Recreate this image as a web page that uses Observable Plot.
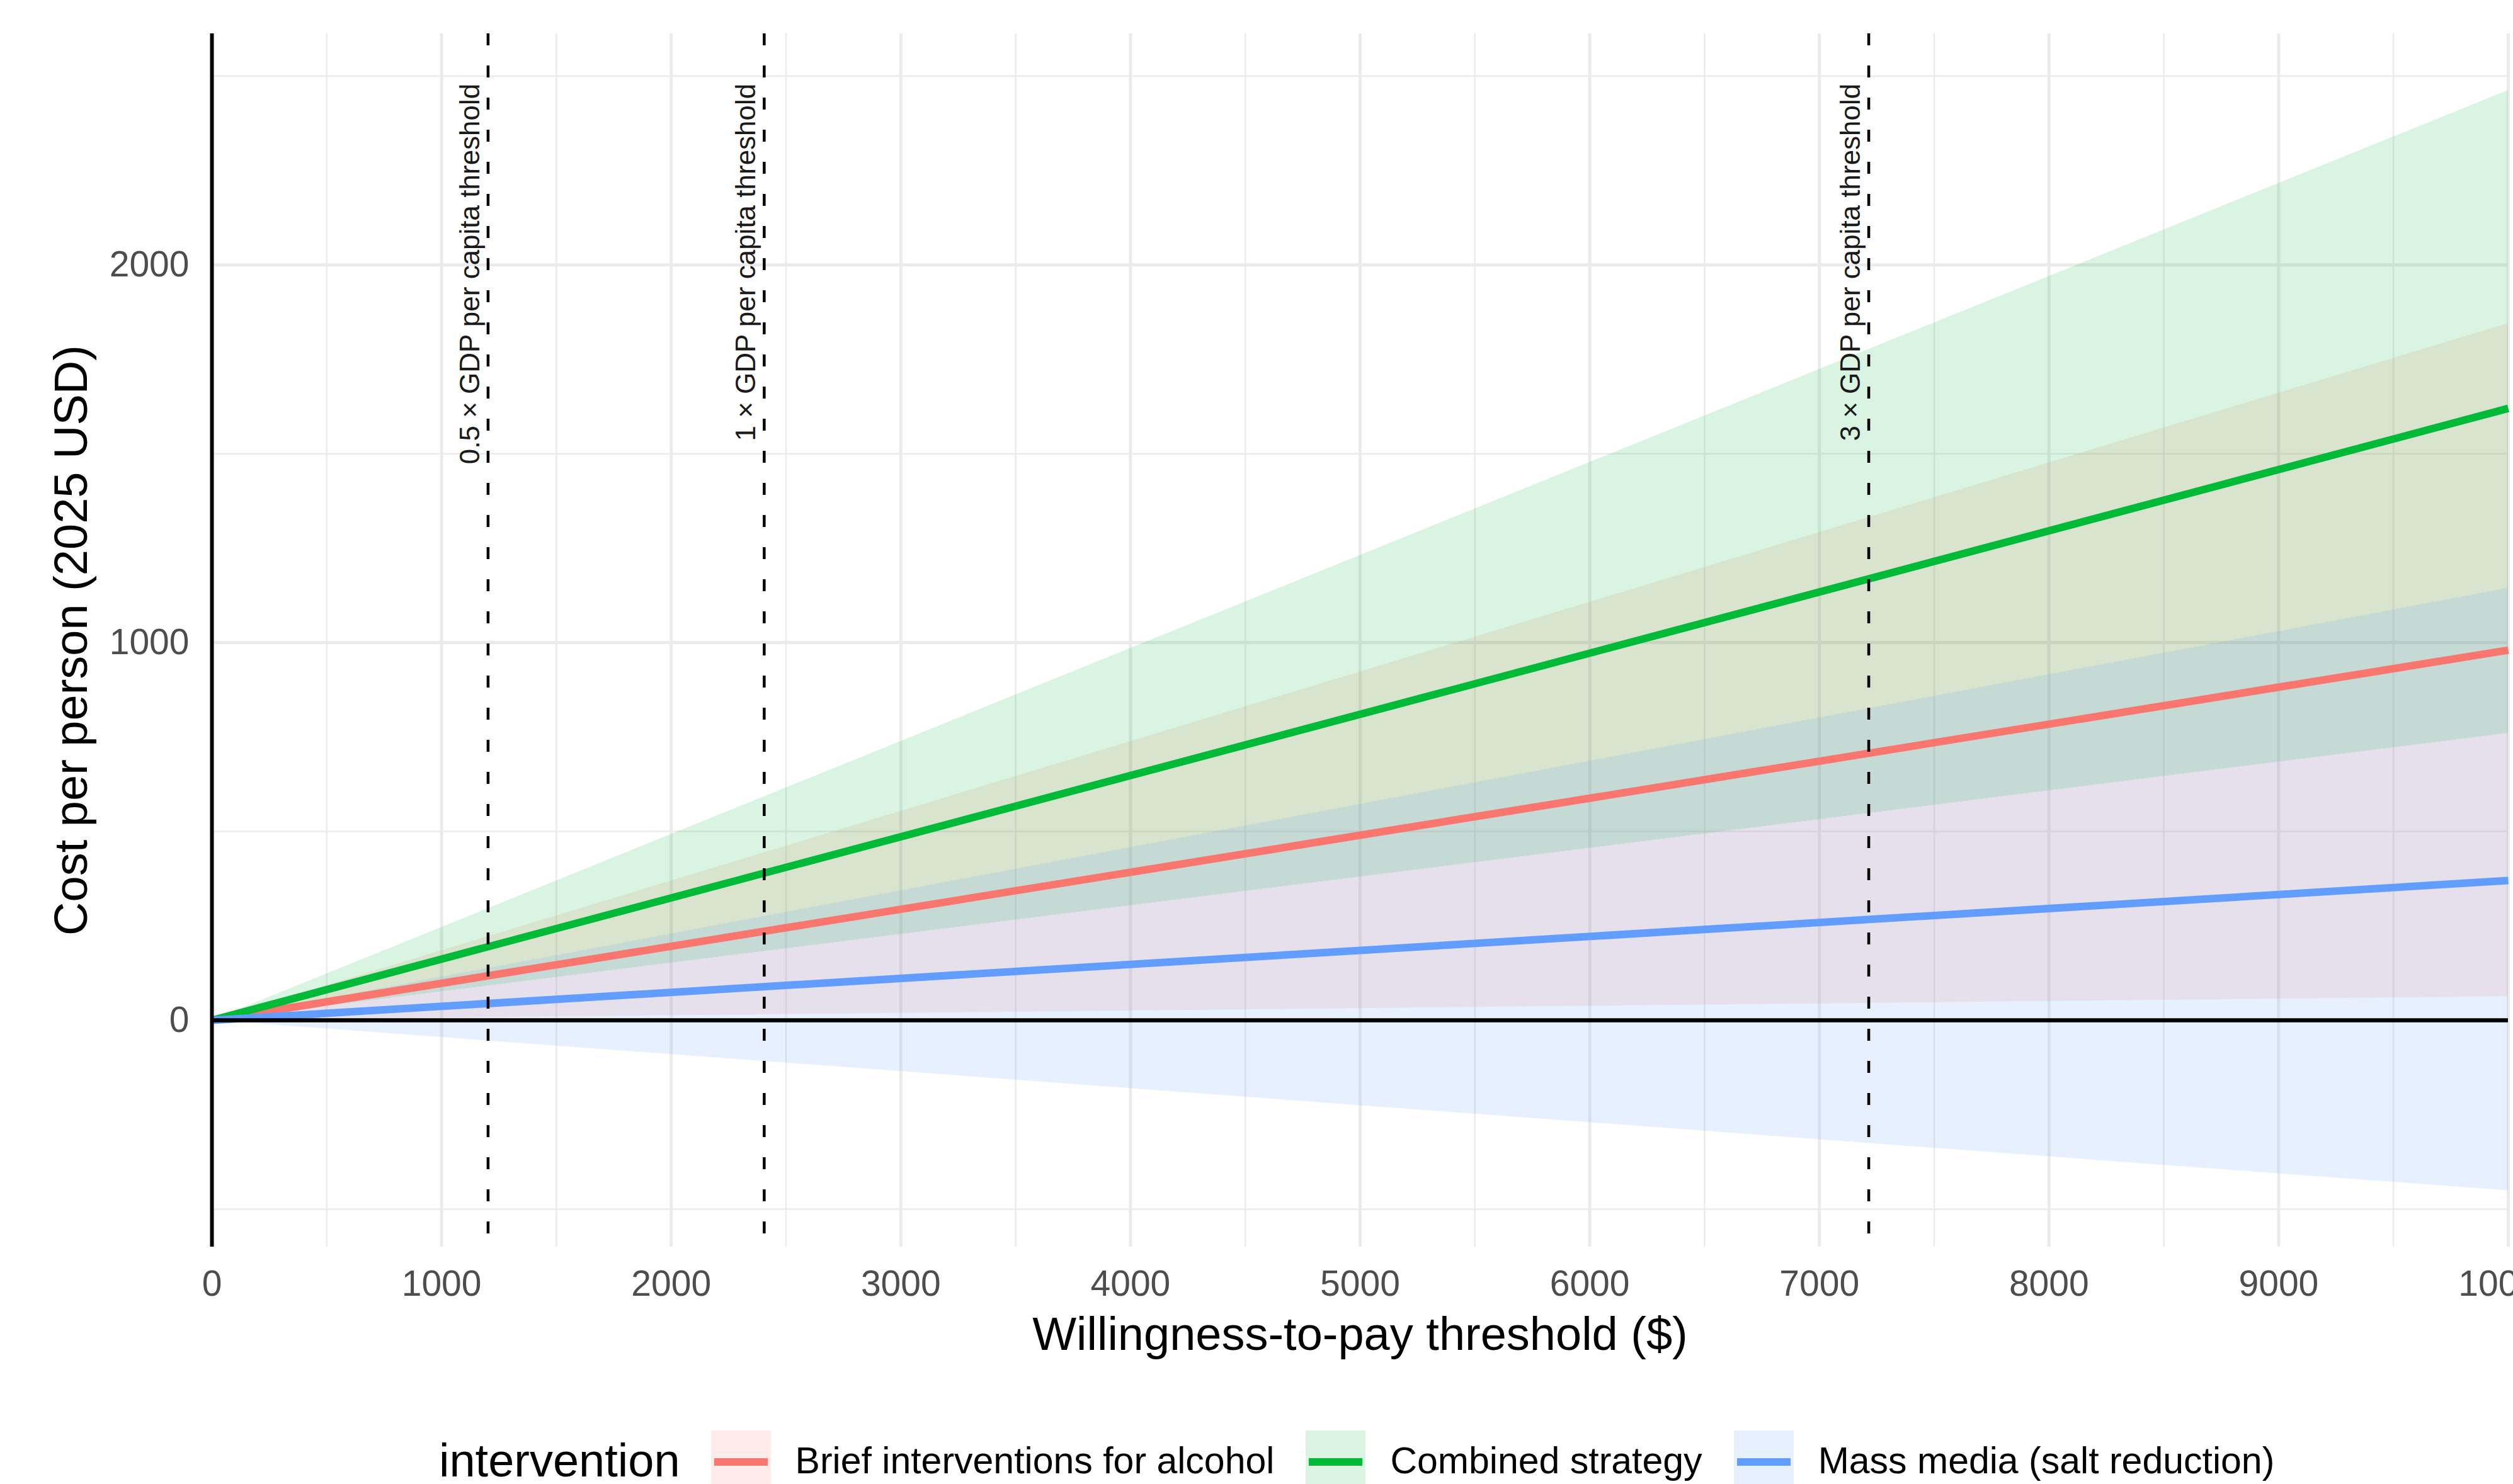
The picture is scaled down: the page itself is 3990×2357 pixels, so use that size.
<!DOCTYPE html>
<html>
<head>
<meta charset="utf-8">
<script src="https://cdn.jsdelivr.net/npm/d3@7"></script>
<script src="https://cdn.jsdelivr.net/npm/@observablehq/plot@0.6"></script>
<style>
  html, body { margin: 0; padding: 0; background: #ffffff; overflow: hidden; }
  #chart svg { display: block; }
  #legend { position: relative; width: 3990px; height: 157px; font-family: "Liberation Sans", Arial, Helvetica, sans-serif; }
  #legend .row { position: absolute; left: 697px; top: 72px; height: 95px; display: flex; align-items: center; white-space: nowrap; }
  #legend .ltitle { font-size: 74px; color: #000; margin-right: 49px; }
  #legend .key { width: 95px; height: 95px; margin-right: 39px; flex: none; display: block; }
  #legend .lab { font-size: 59px; color: #000; margin-right: 50px; }
</style>
</head>
<body>
<div id="chart"></div>
<div id="legend"></div>
<script>
// ---------- data ----------
const interventions = ["Brief interventions for alcohol", "Combined strategy", "Mass media (salt reduction)"];
const interventionColors = ["#F8766D", "#00BA38", "#619CFF"];

const wtp = [0, 10000];

const briefMean = [0, 980];
const briefLow = [0, 63];
const briefHigh = [0, 1845];

const combinedMean = [0, 1620];
const combinedLow = [0, 760];
const combinedHigh = [0, 2462];

const massMean = [0, 370];
const massLow = [0, -451];
const massHigh = [0, 1144];

const thresholdX = [1202.5, 2405, 7215];
const thresholdLabels = ["0.5 × GDP per capita threshold", "1 × GDP per capita threshold", "3 × GDP per capita threshold"];
const thresholdLabelY = [2480, 2480, 2480];

const xTicks = [0, 1000, 2000, 3000, 4000, 5000, 6000, 7000, 8000, 9000, 10000];
const xMinor = [500, 1500, 2500, 3500, 4500, 5500, 6500, 7500, 8500, 9500];
const yTicks = [0, 1000, 2000];
const yMinor = [-500, 500, 1500, 2500];

const xTitle = "Willingness-to-pay threshold ($)";
const yTitle = "Cost per person (2025 USD)";
const legendTitle = "intervention";

// ---------- build table ----------
const seriesMean = [briefMean, combinedMean, massMean];
const seriesLow = [briefLow, combinedLow, massLow];
const seriesHigh = [briefHigh, combinedHigh, massHigh];
const rows = [];
interventions.forEach((name, s) => {
  wtp.forEach((w, i) => {
    rows.push({intervention: name, wtp: w, mean: seriesMean[s][i], low: seriesLow[s][i], high: seriesHigh[s][i]});
  });
});
const thresholds = thresholdX.map((x, i) => ({x, label: thresholdLabels[i], labelY: thresholdLabelY[i]}));

const FONT = '"Liberation Sans", Arial, Helvetica, sans-serif';

const chart = Plot.plot({
  width: 3990,
  height: 2200,
  marginLeft: 336,
  marginRight: 8,
  marginTop: 53,
  marginBottom: 220,
  style: {fontFamily: FONT, fontSize: "57px", background: "#ffffff", overflow: "visible"},
  x: {domain: [0, 10000]},
  y: {domain: [-600, 2612]},
  color: {domain: interventions, range: interventionColors},
  marks: [
    Plot.ruleY(yMinor, {stroke: "#EBEBEB", strokeWidth: 2.5}),
    Plot.ruleX(xMinor, {stroke: "#EBEBEB", strokeWidth: 2.5}),
    Plot.ruleY(yTicks, {stroke: "#EBEBEB", strokeWidth: 5}),
    Plot.ruleX(xTicks, {stroke: "#EBEBEB", strokeWidth: 5}),
    Plot.areaY(rows, {x: "wtp", y1: "low", y2: "high", fill: "intervention", z: "intervention", fillOpacity: 0.15}),
    Plot.line(rows, {x: "wtp", y: "mean", stroke: "intervention", z: "intervention", strokeWidth: 12, strokeLinecap: "butt"}),
    Plot.ruleY([0], {stroke: "#000000", strokeWidth: 6.5}),
    Plot.ruleX([0], {stroke: "#000000", strokeWidth: 6}),
    Plot.ruleX(thresholds, {x: "x", stroke: "#000000", strokeWidth: 4.5, strokeDasharray: "19,32"}),
    Plot.text(thresholds, {x: "x", y: "labelY", text: "label", rotate: -90, textAnchor: "end", lineAnchor: "bottom", dx: -14, fontSize: 44, fill: "#1a1a1a"}),
    Plot.axisX({ticks: xTicks, tickSize: 0, tickPadding: 37, fontSize: 57, color: "#4D4D4D", tickFormat: d => String(d), label: null}),
    Plot.axisY({ticks: yTicks, tickSize: 0, tickPadding: 36, fontSize: 57, color: "#4D4D4D", tickFormat: d => String(d), label: null}),
    Plot.text([xTitle], {frameAnchor: "bottom", dy: 163, textAnchor: "middle", lineAnchor: "bottom", fontSize: 74, fill: "#000000", text: d => d}),
    Plot.text([yTitle], {frameAnchor: "left", dx: -199, rotate: -90, textAnchor: "middle", lineAnchor: "bottom", fontSize: 74, fill: "#000000", text: d => d})
  ]
});
document.getElementById("chart").appendChild(chart);

// ---------- legend ----------
const legend = document.getElementById("legend");
const row = document.createElement("div");
row.className = "row";
const t = document.createElement("span");
t.className = "ltitle";
t.textContent = legendTitle;
row.appendChild(t);
interventions.forEach((name, i) => {
  const ns = "http://www.w3.org/2000/svg";
  const svg = document.createElementNS(ns, "svg");
  svg.setAttribute("class", "key");
  svg.setAttribute("width", "95");
  svg.setAttribute("height", "95");
  const r = document.createElementNS(ns, "rect");
  r.setAttribute("x", "0"); r.setAttribute("y", "0");
  r.setAttribute("width", "95"); r.setAttribute("height", "95");
  r.setAttribute("fill", interventionColors[i]);
  r.setAttribute("fill-opacity", "0.15");
  svg.appendChild(r);
  const l = document.createElementNS(ns, "line");
  l.setAttribute("x1", "5"); l.setAttribute("x2", "90");
  l.setAttribute("y1", "50"); l.setAttribute("y2", "50");
  l.setAttribute("stroke", interventionColors[i]);
  l.setAttribute("stroke-width", "12");
  svg.appendChild(l);
  row.appendChild(svg);
  const lab = document.createElement("span");
  lab.className = "lab";
  lab.textContent = name;
  row.appendChild(lab);
});
legend.appendChild(row);
</script>
</body>
</html>
